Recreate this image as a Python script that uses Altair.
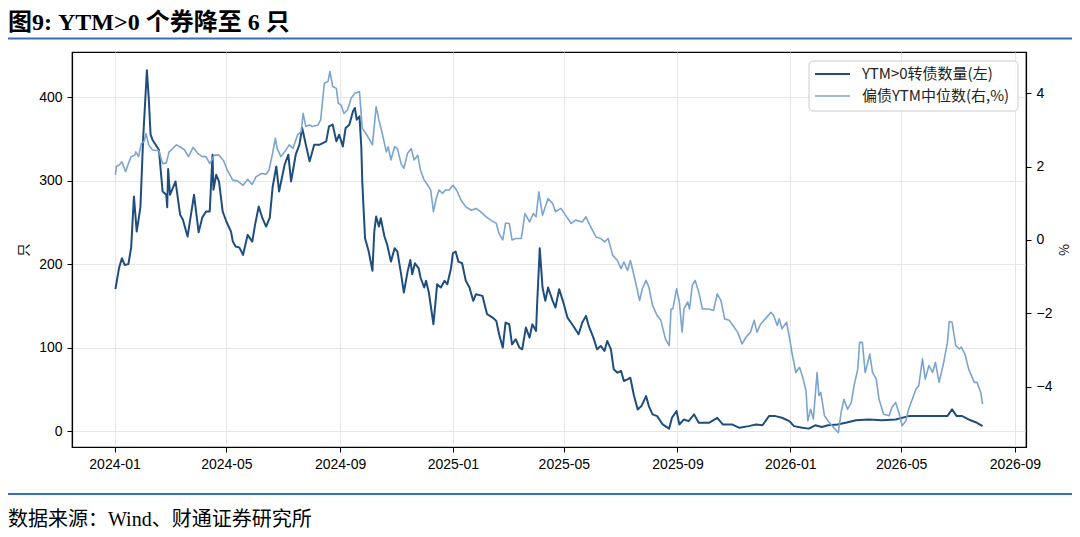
import altair as alt
import pandas as pd

BASE_DATE = "2024-01-02"

COUNT_DAYS = [0, 4, 7, 10, 14, 17, 20, 23, 27, 30, 34, 36, 38, 40, 47, 51, 55, 56, 57, 59, 62, 65, 67, 70, 73, 78, 85, 90, 94, 98,
              102, 105, 106, 109, 112, 116, 120, 125, 127, 130, 134, 138, 143, 148, 151, 155, 159, 163, 167, 170, 174, 177, 183,
              187, 190, 195, 199, 202, 206, 210, 215, 221, 228, 231, 235, 239, 242, 246, 249, 253, 257, 259, 261, 264, 266, 267,
              270, 274, 278, 280, 282, 285, 287, 291, 294, 298, 302, 305, 309, 312, 316, 319, 321, 324, 328, 330, 334, 336, 339,
              344, 348, 352, 356, 359, 363, 365, 368, 371, 375, 379, 383, 387, 390, 397, 402, 408, 412, 415, 419, 422, 426, 429,
              433, 437, 440, 444, 448, 451, 455, 456, 459, 462, 465, 468, 473, 476, 480, 484, 489, 494, 501, 505, 509, 512, 517,
              521, 525, 529, 532, 536, 539, 543, 547, 550, 554, 557, 561, 565, 569, 574, 577, 581, 586, 592, 599, 602, 607, 610,
              615, 620, 626, 631, 642, 651, 657, 667, 675, 685, 693, 700, 707, 714, 721, 729, 734, 743, 750, 757, 764, 771, 781,
              790, 801, 815, 829, 844, 858, 873, 887, 900, 905, 910, 916, 925, 932, 938]
COUNT_VALUES = [170, 196, 207, 199, 200, 220, 281, 239, 268, 351, 432, 399, 355, 349, 337, 287, 283, 268, 314, 283, 291, 299, 283,
                259, 253, 233, 283, 238, 256, 263, 263, 331, 289, 307, 299, 263, 251, 239, 227, 221, 220, 211, 235, 227, 247, 269,
                255, 245, 256, 292, 317, 287, 319, 331, 299, 331, 343, 363, 343, 323, 343, 343, 347, 365, 367, 347, 355, 341, 363,
                367, 383, 387, 373, 377, 339, 299, 231, 215, 192, 239, 257, 245, 255, 233, 223, 203, 219, 215, 188, 166, 191, 205,
                188, 201, 195, 184, 172, 180, 166, 128, 176, 172, 180, 176, 195, 213, 215, 203, 201, 180, 172, 156, 164, 162, 140,
                136, 132, 116, 100, 130, 128, 104, 110, 100, 98, 124, 112, 128, 120, 148, 219, 172, 156, 172, 156, 148, 170, 156,
                136, 128, 116, 130, 138, 126, 112, 98, 102, 96, 108, 98, 74, 70, 72, 60, 62, 64, 42, 26, 30, 42, 30, 20, 18, 8, 3,
                16, 24, 8, 14, 12, 20, 10, 10, 16, 8, 8, 4, 6, 8, 7, 18, 18, 16, 12, 6, 4, 3, 7, 5, 7, 8, 10, 13, 14, 13, 14, 18,
                18, 18, 18, 26, 18, 18, 13, 10, 6]

YTM_DAYS = [0, 1, 4, 7, 11, 14, 17, 21, 22, 25, 28, 31, 33, 36, 40, 47, 51, 55, 58, 62, 66, 71, 75, 79, 84, 89, 94, 98, 102, 107,
            112, 117, 121, 127, 132, 138, 143, 148, 152, 158, 163, 166, 170, 173, 175, 179, 183, 188, 192, 197, 201, 203, 206,
            210, 213, 219, 222, 226, 230, 232, 235, 239, 241, 244, 247, 251, 255, 259, 264, 267, 271, 278, 282, 285, 289, 293,
            295, 298, 302, 305, 309, 312, 316, 320, 323, 327, 330, 334, 338, 341, 344, 347, 350, 354, 357, 361, 365, 369, 374,
            379, 385, 390, 395, 401, 406, 412, 415, 419, 422, 426, 429, 433, 439, 443, 448, 452, 455, 458, 462, 468, 473, 476,
            482, 487, 493, 498, 505, 509, 514, 520, 525, 529, 533, 538, 543, 547, 550, 554, 557, 561, 565, 567, 570, 574, 577,
            581, 586, 590, 595, 599, 601, 603, 607, 610, 613, 615, 619, 621, 624, 627, 631, 635, 642, 647, 651, 655, 659, 664,
            668, 673, 678, 682, 687, 691, 694, 698, 703, 709, 712, 716, 718, 721, 726, 730, 732, 736, 740, 743, 747, 749, 752,
            755, 759, 761, 763, 767, 772, 777, 782, 785, 788, 792, 796, 799, 803, 805, 808, 811, 813, 816, 819, 823, 826, 831,
            837, 840, 844, 848, 851, 855, 858, 862, 866, 869, 873, 876, 880, 884, 887, 891, 896, 900, 902, 905, 909, 913, 915,
            919, 923, 929, 932, 936, 938]
YTM_VALUES = [1.77, 2.00, 2.04, 2.13, 1.86, 2.08, 2.27, 2.31, 2.40, 2.27, 2.63, 2.68, 2.90, 2.59, 2.45, 2.43, 2.08, 2.10, 2.40,
              2.49, 2.59, 2.52, 2.45, 2.27, 2.52, 2.36, 2.27, 2.27, 2.08, 2.31, 2.31, 2.16, 1.90, 1.63, 1.61, 1.49, 1.65, 1.51,
              1.72, 1.81, 1.79, 1.90, 2.36, 2.77, 2.49, 2.27, 2.40, 2.59, 2.49, 2.86, 2.95, 3.45, 3.09, 3.13, 3.09, 3.13, 3.27,
              4.27, 4.32, 4.59, 4.18, 4.13, 3.72, 3.68, 3.45, 3.54, 3.86, 4.00, 4.04, 3.04, 2.90, 2.59, 3.63, 3.27, 2.86, 2.40,
              2.54, 2.18, 2.54, 2.49, 2.08, 1.95, 2.36, 2.49, 2.18, 2.31, 1.90, 1.63, 1.49, 1.36, 0.77, 1.13, 1.36, 1.27, 1.36,
              1.36, 1.49, 1.36, 1.08, 0.90, 0.81, 0.86, 0.77, 0.63, 0.54, 0.45, 0.17, 0.00, 0.46, 0.45, 0.00, 0.04, 0.04, 0.72,
              0.49, 0.72, 0.63, 1.31, 0.67, 1.13, 0.99, 0.77, 0.86, 0.67, 0.45, 0.54, 0.49, 0.63, 0.36, 0.08, 0.04, -0.05, 0.04,
              -0.42, -0.56, -0.78, -0.60, -0.83, -0.56, -0.97, -1.42, -1.65, -1.33, -1.10, -1.28, -1.78, -2.06, -2.19, -2.70,
              -2.88, -1.88, -1.88, -1.33, -1.69, -2.51, -1.88, -1.69, -1.88, -1.24, -1.10, -1.42, -1.88, -1.88, -1.92, -1.47,
              -1.65, -2.15, -2.19, -2.33, -2.51, -2.83, -2.65, -2.51, -2.19, -2.51, -2.29, -2.15, -1.97, -2.06, -2.33, -2.15,
              -2.42, -2.24, -2.79, -3.10, -3.61, -3.47, -3.70, -4.10, -4.93, -4.61, -4.88, -3.61, -4.24, -4.15, -4.79, -4.97,
              -5.11, -5.25, -4.70, -4.34, -4.61, -4.43, -3.97, -3.52, -2.79, -2.79, -3.61, -3.42, -3.11, -3.61, -3.79, -4.34,
              -4.75, -4.79, -4.56, -4.43, -4.75, -5.06, -4.93, -4.61, -4.34, -4.06, -3.97, -3.24, -3.79, -3.42, -3.61, -3.33,
              -3.88, -3.33, -2.79, -2.22, -2.24, -2.88, -2.97, -2.92, -3.11, -3.52, -3.88, -3.88, -4.15, -4.47]

X_TICKS = ["2024-01", "2024-05", "2024-09", "2025-01", "2025-05", "2025-09", "2026-01", "2026-05", "2026-09"]
X_DOMAIN = ["2023-11-16", "2026-09-13"]
LEFT_TICKS = [0, 100, 200, 300, 400]
LEFT_DOMAIN = [-19, 454]
RIGHT_TICKS = [-4, -2, 0, 2, 4]
RIGHT_DOMAIN = [-5.64, 5.12]

SERIES = ["YTM>0转债数量(左)", "偏债YTM中位数(右,%)"]
COLORS = ["#1f4e7e", "#7ba4cf"]
TITLE = "图9: YTM>0 个券降至 6 只"
SOURCE = "数据来源：Wind、财通证券研究所"
LEFT_TITLE = "只"
RIGHT_TITLE = "%"
BLUE = "#3a6fb7"

SERIF = "Liberation Serif, Noto Sans CJK SC"
CJK = "Noto Sans CJK SC"


def dt(s):
    p = [int(v) for v in s.split("-")]
    return alt.DateTime(year=p[0], month=p[1], date=p[2] if len(p) > 2 else 1)


base = pd.Timestamp(BASE_DATE)
count_df = pd.DataFrame({"date": base + pd.to_timedelta(COUNT_DAYS, unit="D"), "count": COUNT_VALUES})
ytm_df = pd.DataFrame({"date": base + pd.to_timedelta(YTM_DAYS, unit="D"), "ytm": YTM_VALUES})

x_enc = alt.X(
    "date:T",
    scale=alt.Scale(domain=[dt(X_DOMAIN[0]), dt(X_DOMAIN[1])]),
    axis=alt.Axis(values=[dt(t) for t in X_TICKS], format="%Y-%m", title=None, grid=True,
                  labelPadding=5, labelFlush=False),
)

count_line = alt.Chart(count_df).mark_line(color=COLORS[0], strokeWidth=2, strokeJoin="round").encode(
    x=x_enc,
    y=alt.Y("count:Q", scale=alt.Scale(domain=LEFT_DOMAIN, nice=False, zero=False),
            axis=alt.Axis(values=LEFT_TICKS, title=LEFT_TITLE, orient="left", grid=True,
                          labelPadding=5, titlePadding=8)),
)

ytm_line = alt.Chart(ytm_df).mark_line(color=COLORS[1], strokeWidth=1.6, strokeJoin="round").encode(
    x=x_enc,
    y=alt.Y("ytm:Q", scale=alt.Scale(domain=RIGHT_DOMAIN, nice=False, zero=False),
            axis=alt.Axis(values=RIGHT_TICKS, title=RIGHT_TITLE, orient="right", grid=False,
                          labelPadding=5, titlePadding=7, titleAngle=270, titleBaseline="top")),
)

one = pd.DataFrame({"k": [0]})

legend_box = alt.Chart(one).mark_rect(fill="white", fillOpacity=0.85, stroke="#cccccc", strokeWidth=1,
                                      cornerRadius=4).encode(
    x=alt.value(737), x2=alt.value(946), y=alt.value(9), y2=alt.value(59))

leg_rule1 = alt.Chart(one).mark_rule(color=COLORS[0], strokeWidth=2).encode(
    x=alt.value(743), x2=alt.value(778), y=alt.value(22))
leg_rule2 = alt.Chart(one).mark_rule(color=COLORS[1], strokeWidth=1.6).encode(
    x=alt.value(743), x2=alt.value(778), y=alt.value(44))

leg_text1 = alt.Chart(pd.DataFrame({"t": [SERIES[0]]})).mark_text(
    font=CJK, fontSize=15, align="left", baseline="middle", color="#222222").encode(
    x=alt.value(790), y=alt.value(22), text="t:N")
leg_text2 = alt.Chart(pd.DataFrame({"t": [SERIES[1]]})).mark_text(
    font=CJK, fontSize=15, align="left", baseline="middle", color="#222222").encode(
    x=alt.value(790), y=alt.value(44), text="t:N")

title = alt.Chart(pd.DataFrame({"t": [TITLE]})).mark_text(
    font=SERIF, fontSize=24, fontWeight="bold", align="left", baseline="alphabetic", color="black").encode(
    x=alt.value(-64), y=alt.value(-22), text="t:N")

top_rule = alt.Chart(one).mark_rule(color=BLUE, strokeWidth=2).encode(
    x=alt.value(-70), x2=alt.value(1005), y=alt.value(-13.5))
bottom_rule = alt.Chart(one).mark_rule(color=BLUE, strokeWidth=2).encode(
    x=alt.value(-70), x2=alt.value(1005), y=alt.value(442))

source = alt.Chart(pd.DataFrame({"t": [SOURCE]})).mark_text(
    font=SERIF, fontSize=20, align="left", baseline="alphabetic", color="black").encode(
    x=alt.value(-64), y=alt.value(474), text="t:N")

chart = alt.layer(
    count_line, ytm_line, legend_box, leg_rule1, leg_rule2, leg_text1, leg_text2,
    title, top_rule, bottom_rule, source,
).resolve_scale(y="independent").properties(
    width=954, height=395,
    padding={"left": 64, "top": 44, "right": 46, "bottom": 82},
    autosize=alt.AutoSizeParams(type="none"),
    background="white",
).configure_view(
    stroke="black", strokeWidth=1.2,
).configure_axis(
    labelFont="Liberation Sans", labelFontSize=14, labelColor="black",
    tickColor="black", tickSize=5, tickWidth=1,
    domainColor="black", domainWidth=1.2,
    gridColor="#e6e6e6", gridWidth=1,
    titleFont=CJK, titleFontSize=13, titleFontWeight="normal", titleColor="black",
)

chart.save("out.html", embed_options={"renderer": "svg", "actions": False})
